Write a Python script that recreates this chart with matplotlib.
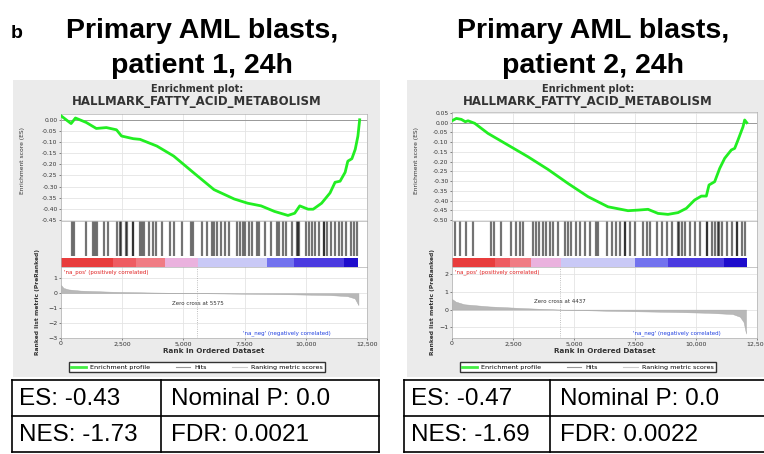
import matplotlib
matplotlib.use("Agg")
import matplotlib.pyplot as plt
from matplotlib.patches import Rectangle
from matplotlib.lines import Line2D

# ---- data ----
titles = ["patient 1, 24h", "patient 2, 24h"]
gene_set = "HALLMARK_FATTY_ACID_METABOLISM"

# running enrichment score (rank, ES)
es_rank_1 = [0, 412, 590, 1030, 1442, 1854, 2266, 2472, 2953, 3228, 3915, 4602, 5426, 6250,
             7074, 7624, 8173, 8722, 9272, 9547, 9753, 10096, 10302, 10646, 10989, 11195,
             11401, 11607, 11717, 11882, 12019, 12129, 12200]
es_val_1 = [0.018, -0.017, 0.008, -0.012, -0.039, -0.035, -0.045, -0.073, -0.085, -0.088,
            -0.118, -0.163, -0.239, -0.314, -0.356, -0.375, -0.387, -0.412, -0.430, -0.420,
            -0.387, -0.402, -0.402, -0.375, -0.329, -0.281, -0.276, -0.236, -0.186, -0.175,
            -0.133, -0.073, 0.0]
es_rank_2 = [0, 178, 383, 546, 656, 929, 1475, 2295, 3115, 3934, 4754, 5574, 6393, 7213,
             7623, 8033, 8443, 8852, 9262, 9604, 9945, 10219, 10423, 10533, 10765, 10970,
             11175, 11448, 11585, 11721, 11926, 11995, 12080]
es_val_2 = [0.010, 0.022, 0.017, 0.005, 0.010, -0.003, -0.055, -0.115, -0.175, -0.240,
            -0.312, -0.380, -0.432, -0.452, -0.449, -0.445, -0.466, -0.471, -0.462, -0.440,
            -0.397, -0.377, -0.377, -0.320, -0.303, -0.235, -0.183, -0.140, -0.132, -0.089,
            -0.021, 0.014, 0.0]

# hit positions (rank)
hits_1 = [450, 545, 1025, 1295, 1393, 1475, 1775, 1910, 2295, 2390, 2460, 2635, 2705, 2935,
          2960, 3210, 3305, 3385, 3590, 3755, 3895, 4125, 4440, 4615, 4960, 5300, 5395, 5740,
          5945, 6175, 6230, 6365, 6540, 6705, 6845, 7185, 7320, 7420, 7525, 7665, 7800, 8005,
          8100, 8345, 8590, 8825, 8895, 9070, 9195, 9440, 9645, 9670, 9740, 10010, 10150,
          10260, 10395, 10535, 10740, 10760, 10875, 11010, 11190, 11350, 11490, 11625, 11830,
          11965, 12100]
hits_2 = [110, 315, 590, 860, 1615, 1720, 2025, 2435, 2640, 2775, 2910, 3320, 3460, 3565,
          3730, 3865, 4005, 4140, 4345, 4620, 4755, 4890, 5095, 5230, 5435, 5640, 5915, 6000,
          6340, 6545, 6720, 6885, 7090, 7110, 7295, 7500, 7845, 7980, 8115, 8390, 8595, 8800,
          9005, 9280, 9300, 9415, 9550, 9755, 9960, 10165, 10440, 10460, 10645, 10780, 10920,
          10940, 11055, 11260, 11465, 11670, 11690, 11875, 12010]

# ranked list metric (rank, value)
metric_rank_1 = [0, 100, 300, 800, 2000, 3500, 5575, 7500, 9500, 11000, 11700, 12000, 12150]
metric_val_1 = [0.55, 0.35, 0.25, 0.17, 0.10, 0.05, 0.0, -0.04, -0.08, -0.13, -0.2, -0.35, -0.8]
metric_rank_2 = [0, 150, 500, 1500, 3000, 4437, 6500, 9000, 10500, 11500, 11800, 11950, 12050]
metric_val_2 = [0.6, 0.45, 0.3, 0.18, 0.08, 0.0, -0.07, -0.13, -0.18, -0.25, -0.4, -0.7, -1.35]
zero_cross = [5575, 4437]

# colour bar under the hits
cbar_edges_1 = [0, 2110, 3070, 4230, 5600, 8400, 9500, 11550, 12150]
cbar_edges_2 = [0, 1750, 2360, 3250, 4480, 7480, 8840, 11160, 12070]
cbar_colors = ["#e83c3c", "#ee5c62", "#f07c84", "#eab2de", "#c9c9f6", "#7272ee", "#4a3ae0", "#1e0ccc"]

es_ticks_1 = [0.00, -0.05, -0.10, -0.15, -0.20, -0.25, -0.30, -0.35, -0.40, -0.45]
es_ticks_2 = [0.05, 0.00, -0.05, -0.10, -0.15, -0.20, -0.25, -0.30, -0.35, -0.40, -0.45, -0.50]
metric_ticks_1 = [1, 0, -1, -2, -3]
metric_ticks_2 = [2, 1, 0, -1]
rank_ticks = [0, 2500, 5000, 7500, 10000, 12500]

table_es = ["ES: -0.43", "ES: -0.47"]
table_nes = ["NES: -1.73", "NES: -1.69"]
table_p = ["Nominal P: 0.0", "Nominal P: 0.0"]
table_fdr = ["FDR: 0.0021", "FDR: 0.0022"]

W, H = 764, 454
fig = plt.figure(figsize=(W / 100, H / 100), dpi=100)


def add_ax(x0, y0, x1, y1):
    return fig.add_axes([x0 / W, 1 - y1 / H, (x1 - x0) / W, (y1 - y0) / H])


def fx(x):
    return x / W


def fy(y):
    return 1 - y / H


small = dict(family="DejaVu Sans", color="#333333")
panels = [
    dict(gx0=13, gx1=380, ax0=61, ax1=367, es_top=114, es_ylim=(-0.455, 0.026),
         m_ylim=(-3, 1.75), es_r=es_rank_1, es_v=es_val_1, hits=hits_1,
         m_r=metric_rank_1, m_v=metric_val_1, edges=cbar_edges_1,
         es_ticks=es_ticks_1, m_ticks=metric_ticks_1, zc=zero_cross[0], zc_y=-0.7,
         title=titles[0], tcx=202, tx0=12, tx1=379, tdiv=161),
    dict(gx0=407, gx1=764, ax0=452, ax1=757, es_top=112, es_ylim=(-0.505, 0.055),
         m_ylim=(-1.6, 2.4), es_r=es_rank_2, es_v=es_val_2, hits=hits_2,
         m_r=metric_rank_2, m_v=metric_val_2, edges=cbar_edges_2,
         es_ticks=es_ticks_2, m_ticks=metric_ticks_2, zc=zero_cross[1], zc_y=0.45,
         title=titles[1], tcx=593, tx0=404, tx1=770, tdiv=550),
]

title_font = dict(family="Liberation Sans", fontweight="bold", fontsize=20.5, color="black")
fig.text(fx(11), fy(38), "b", ha="left", va="baseline", family="Liberation Sans",
         fontweight="bold", fontsize=14)

for i, p in enumerate(panels):
    # big titles
    fig.text(fx(p["tcx"]), fy(38), "Primary AML blasts,", ha="center", va="baseline", **title_font)
    fig.text(fx(p["tcx"]), fy(73), p["title"], ha="center", va="baseline", **title_font)

    # grey GSEA panel background
    fig.patches.append(Rectangle((fx(p["gx0"]), fy(377)), (p["gx1"] - p["gx0"]) / W, (377 - 80) / H,
                                 transform=fig.transFigure, facecolor="#ebebeb",
                                 edgecolor="none", zorder=-5))
    cx = p["ax0"] + 136
    fig.text(fx(cx), fy(89), "Enrichment plot:", ha="center", va="center",
             fontsize=7, fontweight="bold", **small)
    fig.text(fx(cx), fy(101), gene_set, ha="center", va="center",
             fontsize=8.5, fontweight="bold", **small)

    grid_kw = dict(color="#e4e4e4", lw=0.6)

    # enrichment score panel
    ax = add_ax(p["ax0"], p["es_top"], p["ax1"], 221)
    ax.plot(p["es_r"], p["es_v"], color="#22ee22", lw=2.0, zorder=3)
    ax.axhline(0, color="#999999", lw=0.7, zorder=2)
    ax.set_xlim(0, 12500)
    ax.set_ylim(*p["es_ylim"])
    ax.set_yticks(p["es_ticks"])
    ax.set_yticklabels(["%.2f" % t for t in p["es_ticks"]])
    ax.set_xticks(rank_ticks)
    ax.tick_params(axis="x", length=0, labelbottom=False)
    ax.tick_params(axis="y", labelsize=4.3, length=1.5, width=0.4, pad=1, colors="#333333")
    ax.grid(True, **grid_kw)
    ax.set_axisbelow(True)
    for s in ax.spines.values():
        s.set_color("#b0b0b0")
        s.set_linewidth(0.5)
    fig.text(fx(p["gx0"] + 10), fy(160), "Enrichment score (ES)", rotation=90,
             ha="center", va="center", fontsize=4.3, **small)

    # hits + colour bar
    ah = add_ax(p["ax0"], 221, p["ax1"], 267)
    ah.vlines(p["hits"], 0.24, 1, color="black", alpha=0.55, lw=1.6)
    for j in range(len(cbar_colors)):
        e0, e1 = p["edges"][j], p["edges"][j + 1]
        ah.add_patch(Rectangle((e0, 0.0), e1 - e0, 0.2, facecolor=cbar_colors[j],
                               edgecolor="none"))
    ah.set_xlim(0, 12500)
    ah.set_ylim(0, 1)
    ah.set_xticks([])
    ah.set_yticks([])
    for s in ah.spines.values():
        s.set_color("#b0b0b0")
        s.set_linewidth(0.5)

    # ranked list metric
    am = add_ax(p["ax0"], 267, p["ax1"], 338)
    am.fill_between(p["m_r"], 0, p["m_v"], color="#b8b8b8", lw=0.3, edgecolor="#a8a8a8")
    am.axvline(p["zc"], color="#aaaaaa", lw=0.6, ls=":")
    am.set_xlim(0, 12500)
    am.set_ylim(*p["m_ylim"])
    am.set_yticks(p["m_ticks"])
    am.set_xticks(rank_ticks)
    am.set_xticklabels(["{:,}".format(t) for t in rank_ticks])
    am.tick_params(labelsize=4.5, length=1.5, width=0.4, pad=1, colors="#333333")
    am.grid(True, **grid_kw)
    am.set_axisbelow(True)
    for s in am.spines.values():
        s.set_color("#b0b0b0")
        s.set_linewidth(0.5)
    am.set_xlabel("Rank in Ordered Dataset", fontsize=5.2, fontweight="bold",
                  labelpad=1, **small)
    am.text(0.01, 0.97, "'na_pos' (positively correlated)", transform=am.transAxes,
            ha="left", va="top", fontsize=4, color="#e02020")
    am.text(0.88, 0.03, "'na_neg' (negatively correlated)", transform=am.transAxes,
            ha="right", va="bottom", fontsize=4, color="#2040e0")
    am.text(p["zc"], p["zc_y"], "Zero cross at %d" % p["zc"], ha="center", va="center",
            fontsize=4, color="#333333")
    fig.text(fx(p["gx0"] + 25), fy(302), "Ranked list metric (PreRanked)", rotation=90,
             ha="center", va="center", fontsize=4.3, fontweight="bold", **small)

    # legend box
    handles = [Line2D([], [], color="#44ee44", lw=2), Line2D([], [], color="#999999", lw=0.8),
               Line2D([], [], color="#cccccc", lw=0.8)]
    fig.legend(handles, ["Enrichment profile", "Hits", "Ranking metric scores"],
               loc="center", bbox_to_anchor=(fx(cx), fy(367)), ncol=3, fontsize=4.6,
               frameon=True, fancybox=False, edgecolor="#333333", framealpha=1,
               handlelength=2.3, columnspacing=4, borderpad=0.3, handletextpad=0.6)

    # stats table
    tx0, tx1, tdiv = p["tx0"], p["tx1"], p["tdiv"]
    ty = [380, 416, 452]
    lw = 1.2
    for yy in ty:
        fig.add_artist(Line2D([fx(tx0), fx(tx1)], [fy(yy), fy(yy)], color="black", lw=lw))
    for xx in [tx0, tdiv, tx1]:
        fig.add_artist(Line2D([fx(xx), fx(xx)], [fy(ty[0]), fy(ty[2])], color="black", lw=lw))
    tkw = dict(family="Liberation Sans", fontsize=17.5, ha="left", va="center")
    fig.text(fx(tx0 + 7), fy(399), table_es[i], **tkw)
    fig.text(fx(tx0 + 7), fy(435), table_nes[i], **tkw)
    fig.text(fx(tdiv + 10), fy(399), table_p[i], **tkw)
    fig.text(fx(tdiv + 10), fy(435), table_fdr[i], **tkw)

fig.savefig("out.png", dpi=100)
